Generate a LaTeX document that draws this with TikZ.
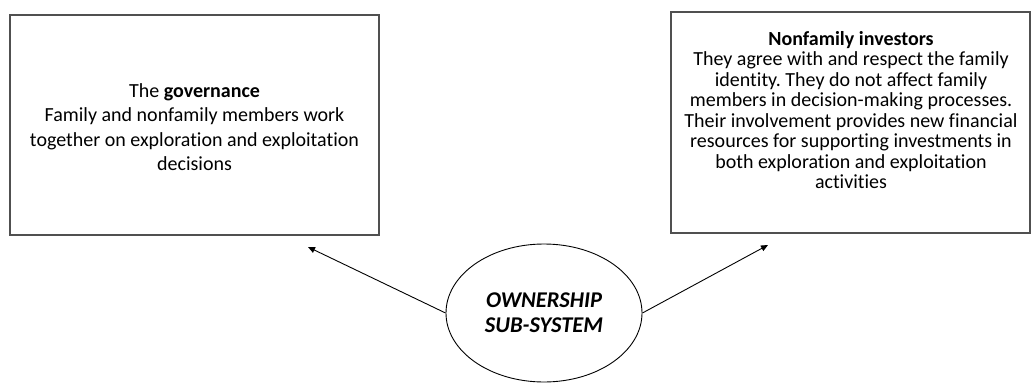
\documentclass[tikz,border=0pt]{standalone}
\usepackage{fontspec}
\setmainfont{Carlito}[Ligatures={NoCommon,NoContextual}]
\frenchspacing
\definecolor{FrameGray}{HTML}{505050}
\usepackage{tikz}
\usetikzlibrary{shapes,arrows.meta,positioning}

\begin{document}
\begin{tikzpicture}[x=1pt,y=-1pt,
    framebox/.style={draw=FrameGray,line width=1.2pt,inner sep=0pt},
    boxtext/.style={align=center,inner sep=0pt},
    arr/.style={-{Triangle[length=7pt,width=6pt]},line width=0.9pt}]
    \useasboundingbox (0,0) rectangle (1031,383);
    % the two boxes
    \node[framebox,minimum width=369pt,minimum height=220pt] (gov) at (194.5,125) {};
    \node[boxtext,font={\fontsize{20}{24.4}\selectfont}] (govtext) at (194.5,127)
        {The \textbf{governance}\\Family and nonfamily members work\\together on exploration and exploitation\\decisions};
    \node[framebox,minimum width=359pt,minimum height=221pt] (inv) at (850.5,122.5) {};
    \node[boxtext,font={\fontsize{20}{20.5}\selectfont}] (invtext) at (851,110)
        {\textbf{Nonfamily investors}\\They agree with and respect the family\\identity. They do not affect family\\members in decision-making processes.\\Their involvement provides new financial\\resources for supporting investments in\\both exploration and exploitation\\activities};
    % the sub-system
    \node[draw,ellipse,line width=0.9pt,minimum width=196pt,minimum height=138pt,inner sep=0pt,
          align=center,font={\fontsize{22.5}{25}\selectfont\bfseries\itshape}] (own) at (544,313)
        {OWNERSHIP\\SUB-SYSTEM};
    \coordinate (govtip) at (308,247);
    \coordinate (invtip) at (768,245);
    \draw[arr] (own.west) -- (govtip);
    \draw[arr] (own.east) -- (invtip);
\end{tikzpicture}
\end{document}
